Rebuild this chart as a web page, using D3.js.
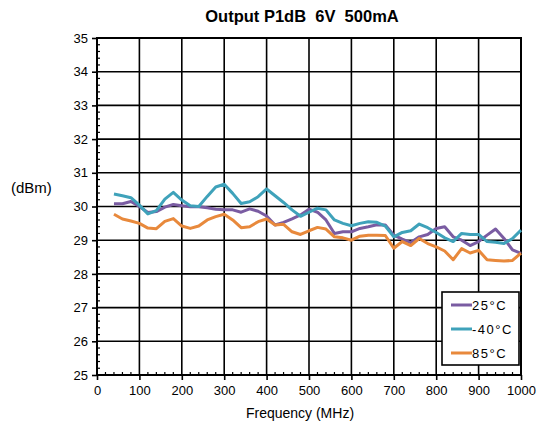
<!DOCTYPE html>
<html>
<head>
<meta charset="utf-8">
<script src="https://cdn.jsdelivr.net/npm/d3@7"></script>
<style>
  body { margin: 0; background: #fff; }
  text { font-family: "Liberation Sans", Arial, sans-serif; fill: #000; }
</style>
</head>
<body>
<div id="chart"></div>
<script>
// frequency points (MHz)
var freqs = d3.range(40, 1001, 20);

// Output P1dB (dBm)
var p25 = [30.08, 30.08, 30.15, 30.0, 29.82, 29.85, 29.98, 30.06, 30.02, 29.99,
           29.99, 29.96, 29.92, 29.9, 29.9, 29.83, 29.93, 29.86, 29.72, 29.45,
           29.53, 29.63, 29.75, 29.92, 29.83, 29.6, 29.2, 29.25, 29.25, 29.35,
           29.4, 29.46, 29.45, 29.15, 29.03, 28.93, 29.1, 29.17, 29.35, 29.4,
           29.1, 29.0, 28.84, 28.96, 29.15, 29.33, 29.05, 28.71, 28.61];
var pm40 = [30.37, 30.32, 30.26, 30.04, 29.78, 29.88, 30.22, 30.42, 30.19, 30.02,
            30.0, 30.3, 30.58, 30.66, 30.39, 30.09, 30.14, 30.29, 30.52, 30.32,
            30.12, 29.9, 29.71, 29.83, 29.95, 29.9, 29.6, 29.5, 29.43, 29.5,
            29.55, 29.53, 29.42, 29.1, 29.23, 29.28, 29.48, 29.37, 29.23, 29.07,
            28.96, 29.2, 29.17, 29.17, 28.96, 28.94, 28.9, 29.05, 29.3];
var p85 = [29.77, 29.63, 29.57, 29.5, 29.36, 29.34, 29.56, 29.64, 29.42, 29.35,
           29.42, 29.6, 29.7, 29.77, 29.6, 29.37, 29.4, 29.55, 29.63, 29.45,
           29.47, 29.25, 29.17, 29.28, 29.38, 29.33, 29.1, 29.07, 29.0, 29.12,
           29.15, 29.15, 29.14, 28.76, 28.96, 28.84, 29.05, 28.9, 28.8, 28.68,
           28.42, 28.75, 28.62, 28.7, 28.42, 28.4, 28.38, 28.4, 28.62];

var seriesNames = ["25\u00B0C", "-40\u00B0C", "85\u00B0C"];
var seriesColors = ["#7a5ca2", "#3fa2ba", "#e8893c"];
var seriesData = [p25, pm40, p85];

var xTicks = d3.range(0, 1001, 100);
var yTicks = d3.range(25, 36, 1);

var W = 540, H = 428;
var margin = {top: 38, right: 19, bottom: 53, left: 97};

var svg = d3.select("#chart").append("svg")
  .attr("width", W).attr("height", H);

var x = d3.scaleLinear().domain([0, 1000]).range([margin.left, W - margin.right]);
var y = d3.scaleLinear().domain([25, 35]).range([H - margin.bottom, margin.top]);

// title
svg.append("text")
  .attr("x", 302).attr("y", 22)
  .attr("text-anchor", "middle")
  .style("font-size", "16.5px").style("font-weight", "bold")
  .attr("xml:space", "preserve")
  .text("Output P1dB  6V  500mA");

// grid
var grid = svg.append("g");
grid.selectAll(".gx").data(xTicks).enter().append("line")
  .attr("x1", d => x(d)).attr("x2", d => x(d))
  .attr("y1", y(25)).attr("y2", y(35))
  .attr("stroke", "#000").attr("stroke-width", 1.6);
grid.selectAll(".gy").data(yTicks).enter().append("line")
  .attr("x1", x(0)).attr("x2", x(1000))
  .attr("y1", d => y(d)).attr("y2", d => y(d))
  .attr("stroke", "#000").attr("stroke-width", 1.6);

// minor ticks (inside)
var minorX = d3.range(0, 1001, 20).filter(d => d % 100 !== 0);
var minorY = d3.range(250, 351, 2).map(d => d / 10).filter(d => Math.abs(d - Math.round(d)) > 0.01);
svg.append("g").selectAll("line").data(minorX).enter().append("line")
  .attr("x1", d => x(d)).attr("x2", d => x(d))
  .attr("y1", y(25)).attr("y2", y(25) - 3)
  .attr("stroke", "#000").attr("stroke-width", 1.2);
svg.append("g").selectAll("line").data(minorY).enter().append("line")
  .attr("x1", x(0)).attr("x2", x(0) + 3)
  .attr("y1", d => y(d)).attr("y2", d => y(d))
  .attr("stroke", "#000").attr("stroke-width", 1.2);

// axes
var xAxis = d3.axisBottom(x).tickValues(xTicks).tickFormat(d3.format("d")).tickSize(5).tickPadding(6);
var yAxis = d3.axisLeft(y).tickValues(yTicks).tickSize(5).tickPadding(4);
var gx = svg.append("g").attr("transform", "translate(0," + y(25) + ")").call(xAxis);
var gy = svg.append("g").attr("transform", "translate(" + x(0) + ",0)").call(yAxis);
[gx, gy].forEach(function(g) {
  g.select(".domain").remove();
  g.selectAll(".tick line").attr("stroke", "#000").attr("stroke-width", 1.6);
  g.selectAll(".tick text").style("font-size", "13px").style("font-family", "Liberation Sans, Arial, sans-serif").attr("fill", "#000");
});

// plot border
svg.append("rect")
  .attr("x", x(0)).attr("y", y(35))
  .attr("width", x(1000) - x(0)).attr("height", y(25) - y(35))
  .attr("fill", "none").attr("stroke", "#000").attr("stroke-width", 2);

// series lines
var line = d3.line().x((d, i) => x(freqs[i])).y(d => y(d));
seriesData.forEach(function(s, k) {
  svg.append("path").datum(s)
    .attr("d", line)
    .attr("fill", "none")
    .attr("stroke", seriesColors[k])
    .attr("stroke-width", 3)
    .attr("stroke-linejoin", "round");
});

// axis titles
svg.append("text")
  .attr("x", 300).attr("y", 418)
  .attr("text-anchor", "middle")
  .style("font-size", "14px")
  .text("Frequency (MHz)");
svg.append("text")
  .attr("x", 11).attr("y", 193)
  .style("font-size", "15px")
  .text("(dBm)");

// legend
var lg = svg.append("g");
lg.append("rect")
  .attr("x", 442).attr("y", 292).attr("width", 77).attr("height", 73)
  .attr("fill", "#fff").attr("stroke", "#000").attr("stroke-width", 1.6);
seriesNames.forEach(function(n, k) {
  var yy = 305 + k * 24;
  lg.append("line")
    .attr("x1", 451).attr("x2", 472).attr("y1", yy).attr("y2", yy)
    .attr("stroke", seriesColors[k]).attr("stroke-width", 3);
  lg.append("text")
    .attr("x", 472).attr("y", yy + 5)
    .style("font-size", "13px")
    .style("letter-spacing", "1.5px")
    .text(n);
});
</script>
</body>
</html>
